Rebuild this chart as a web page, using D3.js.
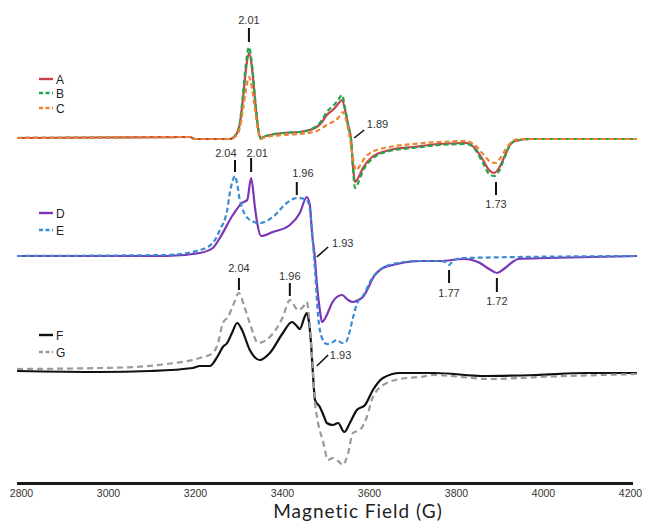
<!DOCTYPE html>
<html>
<head>
<meta charset="utf-8">
<script src="https://cdn.jsdelivr.net/npm/d3@7"></script>
<style>
  html, body { margin: 0; padding: 0; background: #fff; }
  svg { display: block; }
</style>
</head>
<body>
<svg id="chart" width="649" height="523"></svg>
<script>
// ---------------- DATA ----------------
// x tick labels (Magnetic Field, G)
const tickValues = [2800, 3000, 3200, 3400, 3600, 3800, 4000, 4200];

// Vertical stacking offsets (arbitrary units) for the three groups
const offsetABC = 345;
const offsetDE = 227;
const offsetFG = 112;

// Spectrum A
const fieldA = [2791, 2982, 3188, 3200, 3280, 3294, 3303, 3310, 3317, 3324, 3331, 3338, 3345, 3352, 3356, 3402, 3441, 3480, 3492, 3503, 3517, 3529, 3538, 3545, 3552, 3559, 3563, 3568, 3575, 3586, 3607, 3648, 3701, 3763, 3825, 3843, 3862, 3876, 3887, 3899, 3913, 3924, 3936, 3970, 4131, 4216];
const valuesA = [0, 0.5, 1, -1, -1, 3, 14, 38, 68, 85, 70, 38, 10, -1, 1, 5, 6, 11, 16, 23, 28, 34, 38, 28, 13, -2, -27, -44, -40, -30, -19, -12, -9, -6, -5, -10, -22, -32, -35, -30, -17, -7, -3, -1, -1, -1];
// Spectrum B
const fieldB = [2791, 2982, 3188, 3200, 3280, 3294, 3303, 3310, 3317, 3324, 3331, 3338, 3345, 3352, 3356, 3402, 3441, 3480, 3492, 3503, 3517, 3529, 3538, 3545, 3552, 3559, 3563, 3568, 3575, 3586, 3607, 3648, 3701, 3763, 3825, 3843, 3862, 3876, 3887, 3899, 3913, 3924, 3936, 3970, 4131, 4216];
const valuesB = [0, 0.5, 1, -1, -1, 3, 15, 42, 74, 91, 74, 40, 10, -1, 1, 5, 6, 12, 18, 26, 32, 38, 43, 30, 13, -3, -30, -50, -45, -33, -21, -13, -10, -7, -6, -11, -25, -36, -38, -33, -18, -7, -3, -1, -1, -1];
// Spectrum C
const fieldC = [2791, 2982, 3188, 3200, 3280, 3294, 3303, 3310, 3317, 3324, 3331, 3338, 3345, 3352, 3356, 3402, 3441, 3480, 3503, 3529, 3540, 3549, 3556, 3563, 3570, 3579, 3590, 3607, 3648, 3701, 3763, 3825, 3843, 3862, 3880, 3890, 3902, 3915, 3930, 3945, 4131, 4216];
const valuesC = [0, 0.5, 1, -1, -1, 2, 10, 28, 48, 61, 50, 28, 7, -1, 0, 3, 4, 7, 13, 20, 26, 15, 0, -20, -32, -28, -20, -14, -9, -6, -4, -3, -7, -16, -24, -25, -20, -11, -3, -1, -1, -1];

// Spectrum D
const fieldD = [2791, 3135, 3211, 3241, 3257, 3287, 3308, 3320, 3329, 3338, 3343, 3352, 3379, 3418, 3441, 3457, 3464, 3469, 3476, 3480, 3487, 3492, 3503, 3515, 3526, 3538, 3552, 3563, 3575, 3586, 3598, 3609, 3632, 3655, 3717, 3763, 3818, 3855, 3876, 3894, 3910, 3930, 3943, 4010, 4216];
const valuesD = [0, 0, 3, 8, 18, 41, 53, 56, 78, 48, 33, 20, 24, 31, 43, 59, 51, 23, -4, -27, -54, -66, -59, -47, -41, -39, -44, -46, -44, -41, -32, -22, -12, -9, -5, -5, -3, -7, -13, -17, -13, -6, -3, -2, 0];
// Spectrum E
const fieldE = [2791, 3135, 3211, 3241, 3257, 3274, 3280, 3287, 3292, 3297, 3303, 3326, 3349, 3379, 3411, 3434, 3453, 3462, 3469, 3476, 3483, 3492, 3503, 3517, 3526, 3538, 3547, 3552, 3563, 3572, 3586, 3609, 3655, 3717, 3763, 3775, 3784, 3795, 3818, 4216];
const valuesE = [0, 1, 6, 13, 26, 46, 63, 76, 80, 72, 56, 36, 33, 39, 53, 58, 57, 52, 25, -15, -60, -82, -88, -86, -84, -87, -86, -81, -62, -48, -40, -21, -8, -5, -5, -6, -9, -4, -2, 0];

// Spectrum F
const fieldF = [2791, 2982, 3097, 3195, 3211, 3234, 3251, 3264, 3274, 3285, 3297, 3308, 3326, 3349, 3372, 3402, 3423, 3432, 3441, 3451, 3457, 3462, 3467, 3471, 3476, 3487, 3497, 3503, 3517, 3529, 3543, 3556, 3572, 3591, 3609, 3632, 3671, 3749, 3867, 3984, 4099, 4216];
const valuesF = [0, -1, 0, 3, 5, 5, 14, 24, 28, 38, 48, 41, 21, 11, 18, 38, 49, 46, 42, 53, 58, 49, 26, -2, -29, -36, -46, -52, -54, -52, -61, -52, -39, -34, -19, -7, -2, -2, -5, -4, -2, -2];
// Spectrum G
const fieldG = [2791, 2982, 3060, 3135, 3211, 3241, 3253, 3264, 3276, 3287, 3301, 3313, 3326, 3345, 3372, 3402, 3418, 3437, 3452, 3457, 3462, 3469, 3476, 3483, 3494, 3506, 3517, 3529, 3540, 3552, 3563, 3579, 3595, 3609, 3641, 3687, 3717, 3749, 3878, 3990, 4216];
const valuesG = [2, 3, 4, 7, 13, 18, 28, 48, 54, 65, 78, 65, 48, 28, 34, 54, 71, 61, 66, 69, 55, 14, -32, -52, -70, -89, -87, -90, -94, -82, -62, -59, -46, -26, -12, -7, -6, -4, -8, -6, -3];

const seriesNames = ["A", "B", "C", "D", "E", "F", "G"];

// Annotation labels (g-values) with field positions and levels (a.u.)
const annLabels  = ["2.01", "1.73", "2.04", "2.01", "1.96", "1.77", "1.72", "2.04", "1.96"];
const annField   = [3324, 3892, 3292, 3329, 3434, 3784, 3894, 3301, 3418];
const annTextFld = [3324, 3892, 3271, 3343, 3448, 3784, 3894, 3301, 3418];
const annTop     = [455, 301, 323, 325, 301, 213, 205, 205, 200];
const annBottom  = [441, 288, 311, 311, 288, 200, 191, 193, 187];
const annTextY   = [459, 275, 326, 326, 306, 186, 178, 211, 203];
// Slanted pointer annotations
const slantLabels = ["1.89", "1.93", "1.93"];
const slantF1 = [3566, 3480, 3480];
const slantF2 = [3589, 3506, 3506];
const slantY1 = [345, 226, 117];
const slantY2 = [353, 236, 128];
const slantTextF = [3595, 3515, 3510];
const slantTextY = [355, 236, 124];

// ---------------- DRAW ----------------
const svg = d3.select("#chart");
const x = d3.scaleLinear().domain([2800, 4200]).range([21, 630]);
const y = d3.scaleLinear().domain([0, 483]).range([483, 0]);

const styles = {
  A: { color: "#cc3f4c", dash: null },
  B: { color: "#1fa84a", dash: "5,3" },
  C: { color: "#ec8433", dash: "5,3" },
  D: { color: "#7a36b8", dash: null },
  E: { color: "#3a8cd2", dash: "5,3" },
  F: { color: "#111111", dash: null },
  G: { color: "#9a9a9a", dash: "6,4" }
};

const seriesData = {
  A: { f: fieldA, v: valuesA, off: offsetABC },
  B: { f: fieldB, v: valuesB, off: offsetABC },
  C: { f: fieldC, v: valuesC, off: offsetABC },
  D: { f: fieldD, v: valuesD, off: offsetDE },
  E: { f: fieldE, v: valuesE, off: offsetDE },
  F: { f: fieldF, v: valuesF, off: offsetFG },
  G: { f: fieldG, v: valuesG, off: offsetFG }
};

const line = d3.line()
  .x(d => x(d[0]))
  .y(d => y(d[1]))
  .curve(d3.curveMonotoneX);

seriesNames.forEach(name => {
  const s = seriesData[name];
  const pts = s.f.map((f, i) => [f, s.off + s.v[i]]);
  svg.append("path")
    .attr("d", line(pts))
    .attr("fill", "none")
    .attr("stroke", styles[name].color)
    .attr("stroke-width", 2.2)
    .attr("stroke-dasharray", styles[name].dash)
    .attr("stroke-linejoin", "round");
});

// Annotations
const ann = svg.append("g").attr("font-family", "Liberation Sans, Arial, sans-serif")
  .attr("font-size", 11).attr("fill", "#333");
annLabels.forEach((lab, i) => {
  ann.append("line")
    .attr("x1", x(annField[i])).attr("x2", x(annField[i]))
    .attr("y1", y(annTop[i])).attr("y2", y(annBottom[i]))
    .attr("stroke", "#111").attr("stroke-width", 2);
  ann.append("text")
    .attr("x", x(annTextFld[i])).attr("y", y(annTextY[i]))
    .attr("text-anchor", "middle").text(lab);
});
slantLabels.forEach((lab, i) => {
  ann.append("line")
    .attr("x1", x(slantF1[i])).attr("x2", x(slantF2[i]))
    .attr("y1", y(slantY1[i])).attr("y2", y(slantY2[i]))
    .attr("stroke", "#111").attr("stroke-width", 1.6);
  ann.append("text")
    .attr("x", x(slantTextF[i])).attr("y", y(slantTextY[i]))
    .attr("text-anchor", "start").text(lab);
});

// Legends
const legendY = { A: 79, B: 93, C: 108, D: 213, E: 230, F: 335, G: 352 };
const leg = svg.append("g").attr("font-family", "Liberation Sans, Arial, sans-serif")
  .attr("font-size", 12).attr("fill", "#222");
seriesNames.forEach(name => {
  const ly = legendY[name];
  leg.append("line")
    .attr("x1", 39).attr("x2", 53).attr("y1", ly).attr("y2", ly)
    .attr("stroke", styles[name].color).attr("stroke-width", 2.4)
    .attr("stroke-dasharray", styles[name].dash ? "4,2.5" : null);
  leg.append("text").attr("x", 56).attr("y", ly + 4.5).text(name);
});

// Axis
const axis = d3.axisBottom(x).tickValues(tickValues).tickSize(0).tickPadding(0).tickFormat(d3.format("d"));
const gAxis = svg.append("g").attr("transform", "translate(0,483)").call(axis);
gAxis.select(".domain").remove();
gAxis.selectAll("text")
  .attr("font-family", "Liberation Sans, Arial, sans-serif")
  .attr("font-size", 10.5).attr("fill", "#333")
  .attr("dy", null).attr("y", 13.5);
svg.append("line")
  .attr("x1", x(2791)).attr("x2", x(4207))
  .attr("y1", 483.5).attr("y2", 483.5)
  .attr("stroke", "#1a1a1a").attr("stroke-width", 3);

svg.append("text")
  .attr("x", 358).attr("y", 518)
  .attr("text-anchor", "middle")
  .attr("font-family", "Lato, sans-serif")
  .attr("font-size", 19).attr("fill", "#222")
  .attr("letter-spacing", 1)
  .text("Magnetic Field (G)");
</script>
</body>
</html>
